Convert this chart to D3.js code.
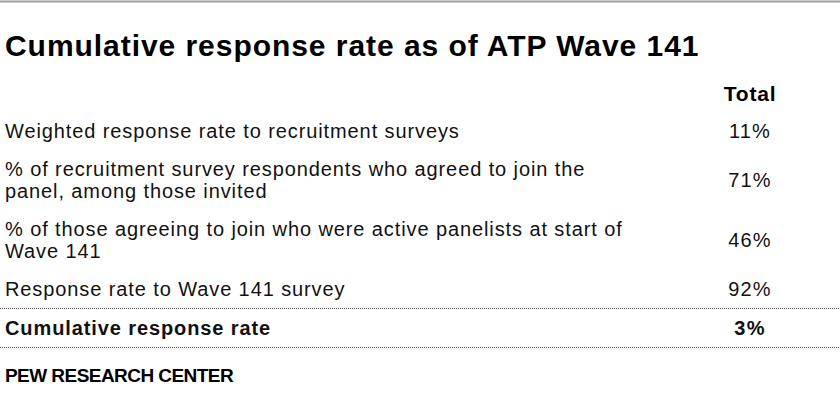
<!DOCTYPE html>
<html>
<head>
<meta charset="utf-8">
<script src="https://cdn.jsdelivr.net/npm/d3@7"></script>
<style>
  body { margin: 0; background: #fff; }
  svg { display: block; }
</style>
</head>
<body>
<svg id="chart"></svg>
<script>
const title = "Cumulative response rate as of ATP Wave 141";
const columnHeader = "Total";
const rowLabels = [
  ["Weighted response rate to recruitment surveys"],
  ["% of recruitment survey respondents who agreed to join the", "panel, among those invited"],
  ["% of those agreeing to join who were active panelists at start of", "Wave 141"],
  ["Response rate to Wave 141 survey"],
  ["Cumulative response rate"]
];
const rowValues = [11, 71, 46, 92, 3];
const boldRows = [false, false, false, false, true];
const source = "PEW RESEARCH CENTER";

const width = 840, height = 420;
const bodyFont = "'Liberation Sans', Arial, sans-serif";
const lineH = 22.5, rowGap = 15;

const svg = d3.select("#chart").attr("width", width).attr("height", height);

// top grey rule
svg.append("line")
  .attr("x1", 0).attr("x2", width)
  .attr("y1", 1.5).attr("y2", 1.5)
  .attr("stroke", "#a0a0a0").attr("stroke-width", 2);

svg.append("text")
  .attr("x", 5).attr("y", 56)
  .style("font-family", bodyFont)
  .style("font-weight", "bold")
  .style("font-size", "30px")
  .style("letter-spacing", "0.95px")
  .attr("fill", "#000")
  .text(title);

// first baseline of each row
const firstBaselines = [];
let yb = 138;
rowLabels.forEach((lines, i) => {
  firstBaselines.push(yb);
  yb += lines.length * lineH + rowGap + (i === 3 ? 1.5 : 0);
});

const y = d3.scaleOrdinal()
  .domain(d3.range(rowLabels.length))
  .range(firstBaselines);

const x = d3.scaleOrdinal()
  .domain(["label", "value"])
  .range([5, 750]);

svg.append("text")
  .attr("x", x("value")).attr("y", 101)
  .attr("text-anchor", "middle")
  .style("font-family", bodyFont)
  .style("font-weight", "bold")
  .style("font-size", "21px")
  .style("letter-spacing", "0.8px")
  .attr("fill", "#000")
  .text(columnHeader);

const rows = svg.selectAll(".row")
  .data(rowLabels.map((lines, i) => ({ lines, value: rowValues[i], bold: boldRows[i], i })))
  .enter()
  .append("g")
  .attr("class", "row");

rows.append("text")
  .attr("x", x("label"))
  .attr("y", d => y(d.i))
  .style("font-family", bodyFont)
  .style("font-size", "20px")
  .style("letter-spacing", "0.9px")
  .style("font-weight", d => d.bold ? "bold" : "normal")
  .attr("fill", "#111")
  .selectAll("tspan")
  .data(d => d.lines)
  .enter()
  .append("tspan")
  .attr("x", x("label"))
  .attr("dy", (d, j) => j === 0 ? 0 : lineH)
  .text(d => d);

rows.append("text")
  .attr("x", x("value"))
  .attr("y", d => y(d.i) + (d.lines.length - 1) * lineH / 2)
  .attr("text-anchor", "middle")
  .style("font-family", bodyFont)
  .style("font-size", "20px")
  .style("letter-spacing", "1.2px")
  .style("font-weight", d => d.bold ? "bold" : "normal")
  .attr("fill", "#111")
  .text(d => d.value + "%");

// dotted rules around the total row
const lastY = y(rowLabels.length - 1);
[lastY - 26, lastY + 13].forEach(ly => {
  svg.append("line")
    .attr("x1", 0).attr("x2", width)
    .attr("y1", ly).attr("y2", ly)
    .attr("stroke", "#555")
    .attr("stroke-width", 1)
    .attr("stroke-dasharray", "1,1");
});

svg.append("text")
  .attr("x", 5).attr("y", 382)
  .style("font-family", bodyFont)
  .style("font-weight", "bold")
  .style("font-size", "19px")
  .style("letter-spacing", "-0.55px")
  .attr("fill", "#000")
  .text(source);
</script>
</body>
</html>
